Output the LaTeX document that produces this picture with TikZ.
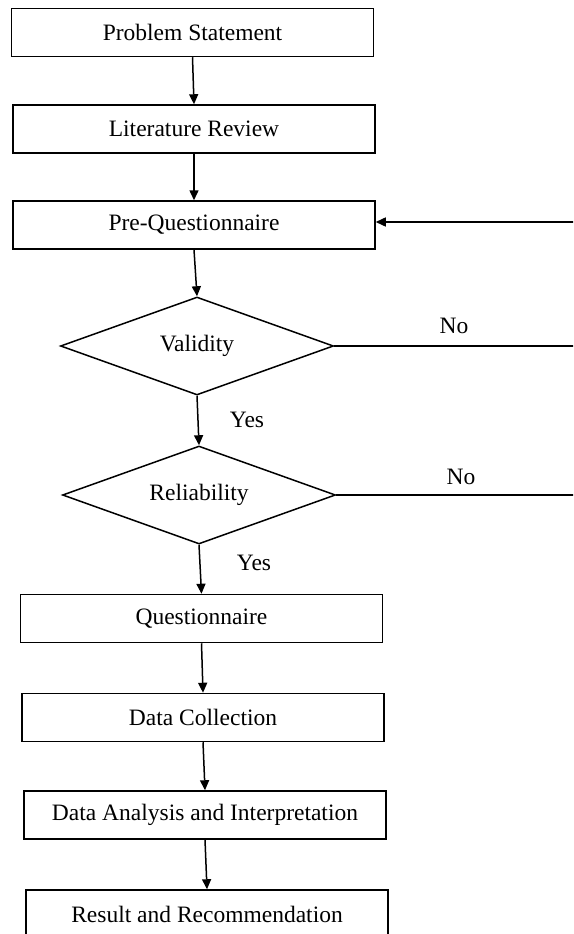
\documentclass[tikz,border=0pt]{standalone}
\usepackage{fontspec}
\setmainfont{Liberation Serif}
\usetikzlibrary{shapes.geometric,arrows.meta}
\begin{document}
\begin{tikzpicture}[x=1pt,y=-1pt,
  every node/.style={font=\fontsize{23.5}{27}\selectfont, text=black},
  stepbox/.style={draw, line width=1.5pt, minimum width=362pt, minimum height=48pt, inner sep=0pt},
  decision/.style={draw, diamond, aspect=2.8, line width=1.5pt, minimum width=273pt, minimum height=98pt, inner sep=0pt},
  conn/.style={line width=1.5pt, -{Triangle[width=9pt,length=10pt]}},
  plain/.style={line width=1.5pt},
  lbl/.style={inner sep=0pt}]
\useasboundingbox (0,0) rectangle (573,934);
\clip (0,0) rectangle (573,934);
\node[stepbox] (ps) at (192.5,32.5) {Problem Statement};
\node[stepbox] (lr) at (194,129) {Literature Review};
\node[stepbox] (pq) at (194,225) {Pre-Questionnaire};
\node[decision] (val) at (197,346) {Validity};
\node[decision] (rel) at (199,495) {Reliability};
\node[stepbox] (q) at (201.5,618.5) {Questionnaire};
\node[stepbox] (dc) at (203,717.5) {Data Collection};
\node[stepbox] (da) at (205,815) {Data Analysis and Interpretation};
\node[stepbox] (rr) at (207,914) {Result and Recommendation};
\coordinate (fb) at (575,222);
\coordinate (vn) at (575,346);
\coordinate (rn) at (575,495);
\draw[conn] (ps.south) -- (lr.north);
\draw[conn] (lr.south) -- (pq.north);
\draw[conn] (pq.south) -- (val.north);
\draw[conn] (val.south) -- (rel.north);
\draw[conn] (rel.south) -- (q.north);
\draw[conn] (q.south) -- (dc.north);
\draw[conn] (dc.south) -- (da.north);
\draw[conn] (da.south) -- (rr.north);
\draw[conn] (fb) -- (pq.east |- fb);
\draw[plain] (val.east) -- (vn);
\draw[plain] (rel.east) -- (rn);
\node[lbl] (no1) at (454,326) {No};
\node[lbl] (no2) at (461,477) {No};
\node[lbl] (yes1) at (247,420) {Yes};
\node[lbl] (yes2) at (254,563) {Yes};
\end{tikzpicture}
\end{document}
